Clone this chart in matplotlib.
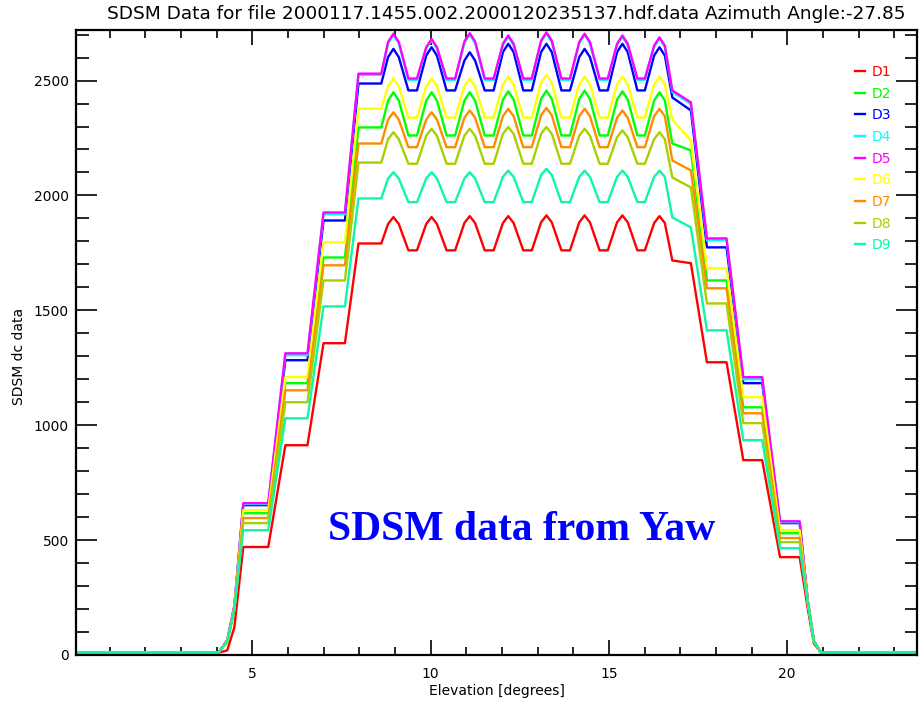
import numpy as np
import matplotlib
matplotlib.use("Agg")
import matplotlib.pyplot as plt
from matplotlib.ticker import MultipleLocator

# channel names and colours
names = ["D1", "D2", "D3", "D4", "D5", "D6", "D7", "D8", "D9"]
colors = ["#ff0000", "#00ff00", "#0000ff", "#00ffff", "#ff00ff",
          "#ffff00", "#ff8c00", "#a8d000", "#10f5a8"]

# elevation breakpoints (degrees)
elev_left = [0.0, 4.05, 4.3, 4.5, 4.75, 5.45, 5.93, 6.55, 7.0, 7.6, 7.98, 8.62]
peak_elev = [8.96, 10.03, 11.1, 12.18, 13.25, 14.32, 15.38, 16.42]
peak_half_width = 0.15
trough_start = [9.38, 10.45, 11.52, 12.6, 13.67, 14.74, 15.8]
trough_end = [9.62, 10.69, 11.77, 12.84, 13.91, 14.97, 16.01]
elev_right = [16.78, 17.3, 17.75, 18.3, 18.77, 19.3, 19.8, 20.35, 20.58, 20.75, 20.95, 23.7]

# dc levels per channel (D1..D9)
base = 10
rise_a = [20, 60, 60, 60, 65, 60, 60, 55, 60]
rise_b = [120, 200, 210, 210, 215, 205, 200, 195, 200]
step1 = [470, 617, 652, 657, 661, 630, 596, 574, 543]
step2 = [913, 1183, 1283, 1305, 1313, 1209, 1152, 1100, 1030]
step3 = [1357, 1730, 1891, 1918, 1926, 1796, 1696, 1630, 1517]
step4 = [1791, 2296, 2487, 2525, 2530, 2378, 2226, 2143, 1987]
peaks = [
    [1906, 1906, 1910, 1910, 1913, 1913, 1913, 1910],
    [2449, 2449, 2449, 2453, 2456, 2456, 2453, 2449],
    [2638, 2645, 2623, 2660, 2660, 2638, 2660, 2645],
    [2698, 2676, 2700, 2690, 2704, 2698, 2690, 2682],
    [2704, 2681, 2706, 2696, 2710, 2704, 2696, 2688],
    [2509, 2509, 2509, 2517, 2524, 2517, 2517, 2517],
    [2362, 2362, 2370, 2377, 2381, 2377, 2370, 2377],
    [2275, 2290, 2290, 2298, 2298, 2290, 2283, 2275],
    [2101, 2101, 2101, 2108, 2116, 2108, 2108, 2108],
]
knee_drop = [30, 36, 36, 36, 36, 34, 32, 30, 27]
trough = [1761, 2261, 2457, 2503, 2509, 2339, 2210, 2138, 1971]
shoulder_a = [1717, 2226, 2426, 2450, 2457, 2330, 2152, 2078, 1904]
shoulder_b = [1705, 2196, 2370, 2398, 2405, 2239, 2109, 2035, 1861]
fall1 = [1274, 1630, 1774, 1805, 1813, 1683, 1596, 1530, 1413]
fall2 = [848, 1078, 1183, 1200, 1209, 1122, 1052, 1009, 935]
fall3 = [426, 530, 574, 578, 582, 543, 509, 491, 465]
fall_mid = [200, 230, 230, 230, 235, 230, 225, 225, 225]
fall_low = [50, 60, 60, 60, 60, 60, 60, 60, 60]


def profile(i):
    xs = list(elev_left)
    ys = [base, base, rise_a[i], rise_b[i], step1[i], step1[i], step2[i], step2[i],
          step3[i], step3[i], step4[i], step4[i]]
    for k in range(len(peak_elev)):
        p = peaks[i][k]
        xs += [peak_elev[k] - peak_half_width, peak_elev[k], peak_elev[k] + peak_half_width]
        ys += [p - knee_drop[i], p, p - knee_drop[i]]
        if k < len(trough_start):
            xs += [trough_start[k], trough_end[k]]
            ys += [trough[i], trough[i]]
    xs += elev_right
    ys += [shoulder_a[i], shoulder_b[i], fall1[i], fall1[i], fall2[i], fall2[i],
           fall3[i], fall3[i], fall_mid[i], fall_low[i], base, base]
    return np.array(xs), np.array(ys)


fig = plt.figure(figsize=(9.22, 7.02), dpi=100)
ax = fig.add_axes([76 / 922, 47 / 702, 841 / 922, 625 / 702])

for i, name in enumerate(names):
    x, y = profile(i)
    ax.plot(x, y, color=colors[i], lw=1.7, label=name)

ax.set_xticks([5, 10, 15, 20])
ax.xaxis.set_minor_locator(MultipleLocator(1))
ax.yaxis.set_major_locator(MultipleLocator(500))
ax.yaxis.set_minor_locator(MultipleLocator(100))
ax.set_xlim(0.06, 23.64)
ax.set_ylim(0, 2720)
ax.tick_params(axis="x", which="major", direction="in", length=11, width=1.2,
               top=True, labelsize=10, pad=9)
ax.tick_params(axis="x", which="minor", direction="in", length=6, width=1.2, top=True)
ax.tick_params(axis="y", which="major", direction="in", length=15, width=1.2,
               right=True, labelsize=10, pad=5)
ax.tick_params(axis="y", which="minor", direction="in", length=9, width=1.2, right=True)
for s in ax.spines.values():
    s.set_linewidth(1.6)

ax.set_title("SDSM Data for file 2000117.1455.002.2000120235137.hdf.data Azimuth Angle:-27.85",
             fontsize=13.3, pad=8, x=0.511)
ax.set_xlabel("Elevation [degrees]", fontsize=10, labelpad=2)
ax.set_ylabel("SDSM dc data", fontsize=10)
ax.yaxis.set_label_coords(-0.06, 0.478)

leg = ax.legend(loc="upper left", bbox_to_anchor=(0.918, 0.955), frameon=False,
                handlelength=0.7, handletextpad=0.5, labelspacing=0.55,
                fontsize=10, borderpad=0, labelcolor="linecolor")

ax.text(12.55, 501, "SDSM data from Yaw", color="#0000ff", fontsize=30,
        fontweight="bold", family="Liberation Serif", ha="center", va="baseline")

fig.savefig("out.png", dpi=100)
